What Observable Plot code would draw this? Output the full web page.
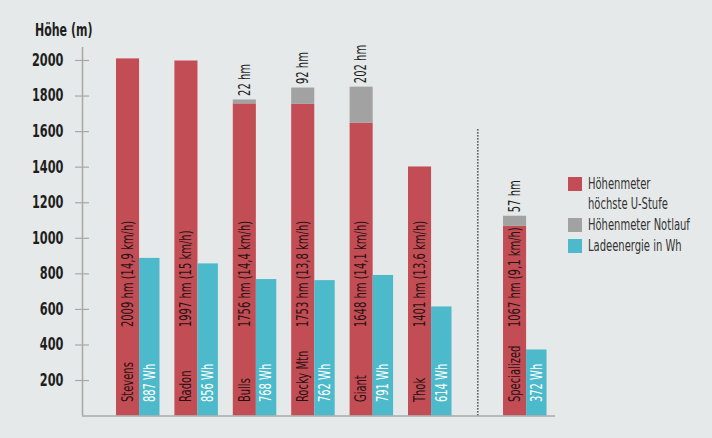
<!DOCTYPE html>
<html><head><meta charset="utf-8">
<script src="https://cdn.jsdelivr.net/npm/d3@7"></script>
<script src="https://cdn.jsdelivr.net/npm/@observablehq/plot@0.6"></script>
<style>
body{margin:0;background:#e6e9e9;}
#wrap{position:relative;width:712px;height:438px;background:#e6e9e9;overflow:hidden;}
#title{position:absolute;left:35px;top:20px;font:bold 17px "DejaVu Sans Condensed","DejaVu Sans",sans-serif;color:#1e1e1e;transform:scaleX(0.72);transform-origin:left center;white-space:nowrap;}
#legend{position:absolute;left:568px;top:174px;font:15px "DejaVu Sans Condensed","DejaVu Sans",sans-serif;color:#333;line-height:20px;}
#legend .it{display:flex;align-items:flex-start;margin-bottom:1px;}
#legend .sw{width:14px;height:14px;margin-right:6px;margin-top:3px;flex:none;}
#legend .tx{transform:scaleX(0.74);transform-origin:left center;white-space:nowrap;}
</style></head>
<body><div id="wrap"><div id="title">Höhe (m)</div><div id="legend"></div></div>
<script>
const brands = ["Stevens","Radon","Bulls","Rocky Mtn","Giant","Thok","Specialized"];
const hmMax = [2009,1997,1756,1753,1648,1401,1067];
const hmNot = [0,0,22,92,202,0,57];
const wh = [887,856,768,762,791,614,372];
const speed = ["14,9","15","14,4","13,8","14,1","13,6","9,1"];
const yTicks = [200,400,600,800,1000,1200,1400,1600,1800,2000];
const legendLabels = ["Höhenmeter<br>höchste U-Stufe","Höhenmeter Notlauf","Ladeenergie in Wh"];

const RED = "#c34d55", GRAY = "#a2a2a2", BLUE = "#4dbacb";
const FONT = '"DejaVu Sans Condensed","DejaVu Sans",sans-serif';
const groupGap = 0.627;         // extra space before the separated bike
const redW = 0.395, blueW = 0.35;

const data = brands.map((b, i) => ({
  brand: b, hm: hmMax[i], not: hmNot[i], wh: wh[i], speed: speed[i],
  s: i + (i >= 6 ? groupGap : 0)
}));
const dividerX = ((data[5].s + redW + blueW) + data[6].s) / 2;

const chart = Plot.plot({
  width: 712, height: 438,
  marginLeft: 82, marginRight: 157, marginTop: 47, marginBottom: 22.4,
  style: {background: "transparent", fontFamily: FONT},
  x: {domain: [-0.582, 7.517], axis: null},
  y: {domain: [0, 2073], axis: null},
  marks: [
    Plot.rect(data, {x1: d => d.s, x2: d => d.s + redW, y1: 0, y2: "hm", fill: RED}),
    Plot.rect(data.filter(d => d.not > 0), {x1: d => d.s, x2: d => d.s + redW, y1: "hm", y2: d => d.hm + d.not, fill: GRAY}),
    Plot.rect(data, {x1: d => d.s + redW, x2: d => d.s + redW + blueW, y1: 0, y2: "wh", fill: BLUE}),
    Plot.ruleX([dividerX], {y1: 0, y2: 1620, stroke: "#333", strokeWidth: 1.6, strokeDasharray: "1.4,1.6"}),
    Plot.ruleY([0], {stroke: "#a8a8a8", strokeWidth: 1.5}),
    Plot.ruleX([-0.582], {y1: 0, y2: 2073, stroke: "#a8a8a8", strokeWidth: 1.5}),
    Plot.axisY({ticks: yTicks, tickSize: 14, dx: 7, tickPadding: 12, stroke: "#a8a8a8", strokeWidth: 1.2,
      fontSize: 17, fontWeight: "bold", fill: "#1e1e1e", tickFormat: d => String(d), anchor: "left"}),
    Plot.text(data, {x: d => d.s + redW / 2, y: 0, text: "brand", rotate: -90, textAnchor: "start",
      lineAnchor: "middle", dy: -14, fontSize: 15, fill: "#2a1214"}),
    Plot.text(data, {x: d => d.s + redW / 2, y: 0, text: d => `${d.hm} hm (${d.speed} km/h)`, rotate: -90,
      textAnchor: "start", lineAnchor: "middle", dy: -89, fontSize: 15, fill: "#2a1214"}),
    Plot.text(data, {x: d => d.s + redW + blueW / 2, y: 0, text: d => `${d.wh} Wh`, rotate: -90,
      textAnchor: "start", lineAnchor: "middle", dy: -14, fontSize: 15, fill: "#ffffff"}),
    Plot.text(data.filter(d => d.not > 0), {x: d => d.s + redW / 2, y: d => d.hm + d.not, text: d => `${d.not} hm`,
      rotate: -90, textAnchor: "start", lineAnchor: "middle", dy: -4, fontSize: 15, fill: "#1e1e1e"})
  ]
});
document.getElementById("wrap").prepend(chart);

// condense all text to mimic the narrow typeface of the original
chart.querySelectorAll("text").forEach(t => {
  const len = t.getComputedTextLength();
  if (len > 0) {
    t.setAttribute("textLength", (len * 0.74).toFixed(2));
    t.setAttribute("lengthAdjust", "spacingAndGlyphs");
  }
});

const legend = document.getElementById("legend");
[RED, GRAY, BLUE].forEach((c, i) => {
  const it = document.createElement("div");
  it.className = "it";
  it.innerHTML = `<div class="sw" style="background:${c}"></div><div class="tx">${legendLabels[i]}</div>`;
  legend.appendChild(it);
});
</script>
</body></html>
